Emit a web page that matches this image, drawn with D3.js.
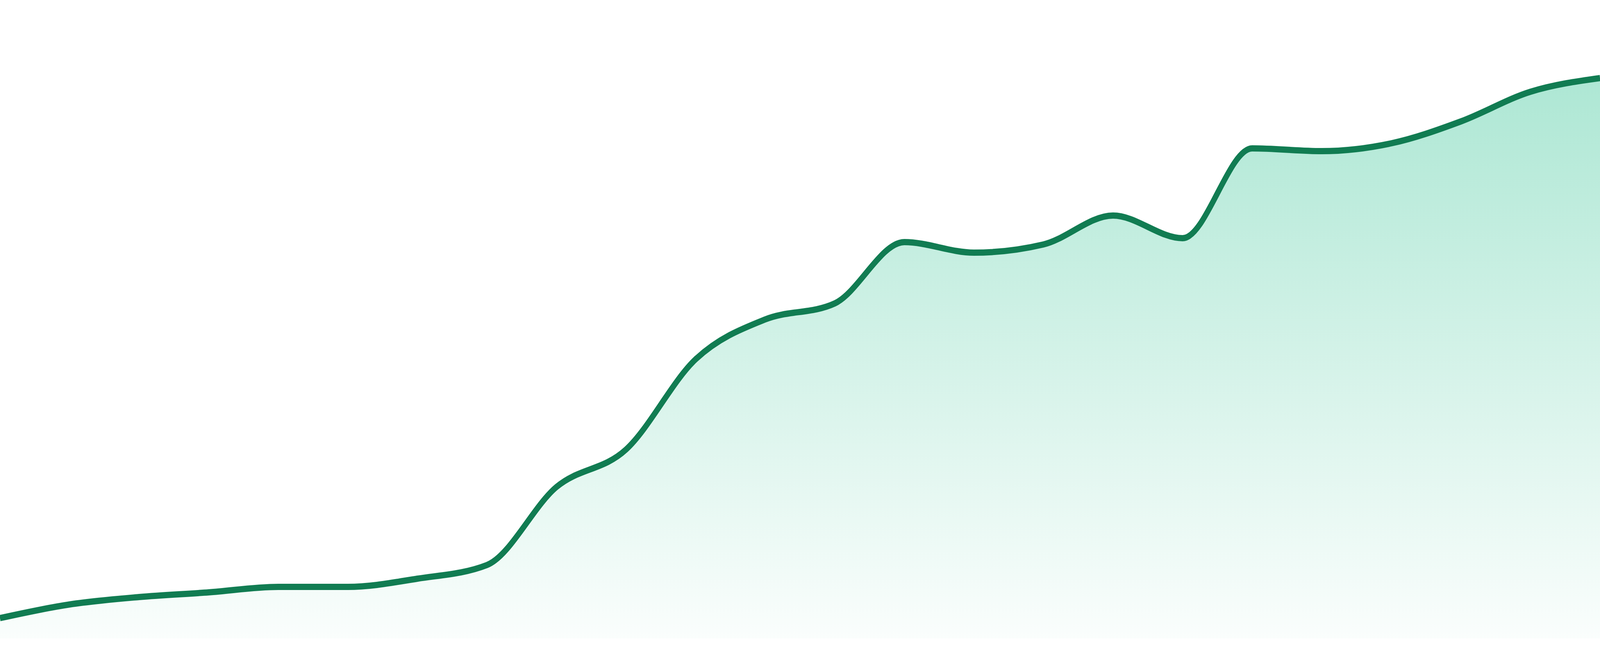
<!DOCTYPE html>
<html>
<head>
<meta charset="utf-8">
<script src="https://cdn.jsdelivr.net/npm/d3@7"></script>
<style>
  html, body { margin: 0; padding: 0; background: #fff; overflow: hidden; }
  svg { display: block; width: 100vw; height: 100vh; }
</style>
</head>
<body>
<svg id="chart"></svg>
<script>
const width = 4800
const height = 1680
const margin = { top: 135, right: 0, bottom: 45, left: 0 }

// one value per period
const periods = [1, 2, 3, 4, 5, 6, 7, 8, 9, 10, 11, 12, 13, 14, 15, 16, 17, 18, 19, 20, 21, 22, 23, 24]
const values = [
  5.2, 8.7, 10.6, 11.8, 13.2, 13.2, 15.3, 18.8,
  38.8, 48.4, 71.5, 81.7, 85.8, 101.5, 98.8, 100.9,
  108.3, 102.5, 125.5, 124.8, 126.8, 132.4, 140.0, 143.5
]
const yDomain = [0, 150]

const data = periods.map((p, i) => ({ period: p, amount: values[i] }))

// drawn in a 4800x1680 box, stretched to whatever the window is
const svg = d3.select('#chart')
  .attr('viewBox', [0, 0, width, height])
  .attr('preserveAspectRatio', 'none')

const x = d3
  .scaleLinear()
  .domain(d3.extent(periods))
  .range([margin.left, width - margin.right])

const y = d3
  .scaleLinear()
  .domain(yDomain)
  .range([height - margin.bottom, margin.top])

// Gradient under the line
const grad = svg
  .append('defs')
  .append('linearGradient')
  .attr('id', 'area-gradient')
  .attr('x1', 0)
  .attr('y1', 0)
  .attr('x2', 0)
  .attr('y2', 1)

grad
  .selectAll('stop')
  .data([
    { offset: '0%', color: 'rgba(16, 185, 129, 0.34)' },
    { offset: '100%', color: 'rgba(16, 185, 129, 0.02)' }
  ])
  .join('stop')
  .attr('offset', d => d.offset)
  .attr('stop-color', d => d.color)

const area = d3
  .area()
  .curve(d3.curveMonotoneX)
  .x(d => x(d.period))
  .y0(y(0))
  .y1(d => y(d.amount))

svg
  .append('path')
  .datum(data)
  .attr('d', area)
  .attr('fill', 'url(#area-gradient)')

const line = d3
  .line()
  .curve(d3.curveMonotoneX)
  .x(d => x(d.period))
  .y(d => y(d.amount))

svg
  .append('path')
  .datum(data)
  .attr('d', line)
  .attr('fill', 'none')
  .attr('stroke', '#117c52')
  .attr('stroke-width', 16)
  .attr('stroke-linejoin', 'round')
</script>
</body>
</html>
